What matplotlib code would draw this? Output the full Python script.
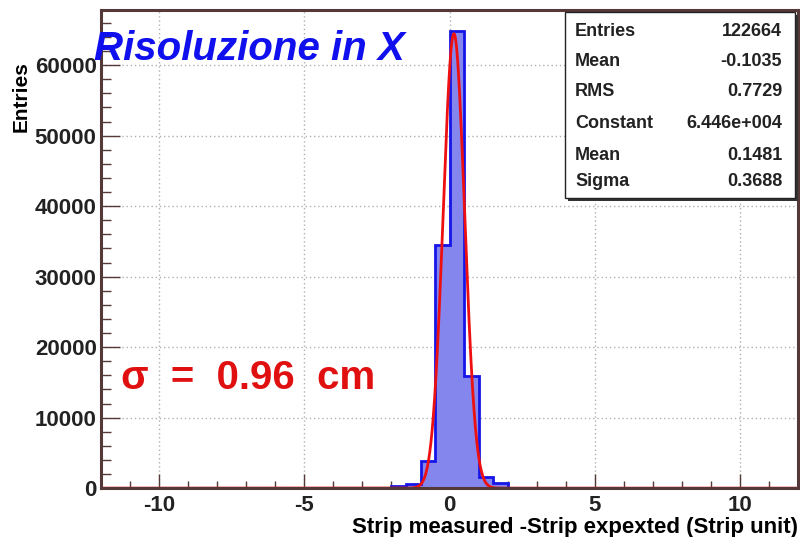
import numpy as np
import matplotlib.pyplot as plt
from matplotlib.patches import Rectangle
from matplotlib.ticker import MultipleLocator

plt.rcParams["axes.unicode_minus"] = False

# histogram: 0.5 wide bins from -12 to 12, only the central ones are filled
bin_width = 0.5
x_lo, x_hi = -12.0, 12.0
filled_left_edges = [-2.0, -1.5, -1.0, -0.5, 0.0, 0.5, 1.0, 1.5]
filled_counts = [250, 620, 3800, 34500, 64800, 15900, 1560, 710]

# gaussian fit parameters (from the stats box)
fit_constant = 64460
fit_mean = 0.1481
fit_sigma = 0.3688

stat_names = ["Entries", "Mean", "RMS", "Constant", "Mean", "Sigma"]
stat_values = ["122664", "-0.1035", "0.7729", "6.446e+004", "0.1481", "0.3688"]

frame_col = "#553838"
bold = dict(family="Liberation Sans", weight="bold")

edges = np.arange(x_lo, x_hi + bin_width / 2, bin_width)
counts = np.zeros(len(edges) - 1)
for left, c in zip(filled_left_edges, filled_counts):
    counts[int(round((left - x_lo) / bin_width))] = c

fig = plt.figure(figsize=(8, 5.37), dpi=100)
ax = fig.add_axes([0.126, 0.091, 0.872, 0.89])

# grid first so it sits under the histogram
ax.grid(True, which="major", color="#b0b0b0", linestyle=(0, (1, 2)), linewidth=1)
ax.set_axisbelow(True)

ax.stairs(counts, edges, fill=True, color="#8585ee")
ax.stairs(counts, edges, color="#1515e8", linewidth=2)

xf = np.linspace(x_lo, x_hi, 3000)
yf = fit_constant * np.exp(-0.5 * ((xf - fit_mean) / fit_sigma) ** 2)
ax.plot(xf, yf, color="#ee1010", linewidth=2)

ax.set_xlim(x_lo, x_hi)
ax.set_ylim(0, 67800)

ax.xaxis.set_major_locator(MultipleLocator(5))
ax.xaxis.set_minor_locator(MultipleLocator(1))
ax.yaxis.set_major_locator(MultipleLocator(10000))
ax.yaxis.set_minor_locator(MultipleLocator(2000))
ax.tick_params(axis="x", which="major", direction="in", length=10, width=1, color=frame_col, pad=5)
ax.tick_params(axis="x", which="minor", direction="in", length=5, width=1, color=frame_col)
ax.tick_params(axis="y", which="major", direction="in", length=14, width=1, color=frame_col, pad=3)
ax.tick_params(axis="y", which="minor", direction="in", length=7, width=1, color=frame_col)
ax.tick_params(top=False, right=False)

for lab in ax.get_xticklabels() + ax.get_yticklabels():
    lab.set_fontfamily("Liberation Sans")
    lab.set_fontweight("bold")
    lab.set_fontsize(16)
    lab.set_color("#222222")

for s in ax.spines.values():
    s.set_color(frame_col)
    s.set_linewidth(2.2)

ax.set_xlabel("Strip measured -Strip expexted (Strip unit)", fontsize=16, loc="right", labelpad=1, **bold)
ax.set_ylabel("Entries", fontsize=15, labelpad=4, **bold)
ax.yaxis.set_label_coords(-0.1, 0.82)

fig.text(94 / 800, 1 - 60 / 537, "Risoluzione in X", fontsize=29,
         family="Liberation Sans", style="italic", weight="bold", color="#1010ee",
         ha="left", va="baseline")

ax.text(-11.3, 15600, "\u03c3  =  0.96  cm", fontsize=29, color="#e01010",
        va="center", ha="left", **bold)

# stats box
bx0, by0, bw, bh = 565 / 800, 1 - 198 / 537, 230 / 800, 186 / 537
fig.patches.append(Rectangle((bx0 + 3 / 800, by0 - 3 / 537), bw, bh, transform=fig.transFigure,
                             facecolor="#333333", edgecolor="none", zorder=5))
fig.patches.append(Rectangle((bx0, by0), bw, bh, transform=fig.transFigure,
                             facecolor="white", edgecolor="#222222", linewidth=1, zorder=6))
row_y = [32, 62, 92, 123, 155, 182]
for name, val, ypx in zip(stat_names, stat_values, row_y):
    fig.text(575 / 800, 1 - ypx / 537, name, fontsize=13, va="center", ha="left",
             color="#222222", zorder=7, **bold)
    fig.text(782 / 800, 1 - ypx / 537, val, fontsize=13, va="center", ha="right",
             color="#222222", zorder=7, **bold)

fig.savefig("out.png", dpi=100)
